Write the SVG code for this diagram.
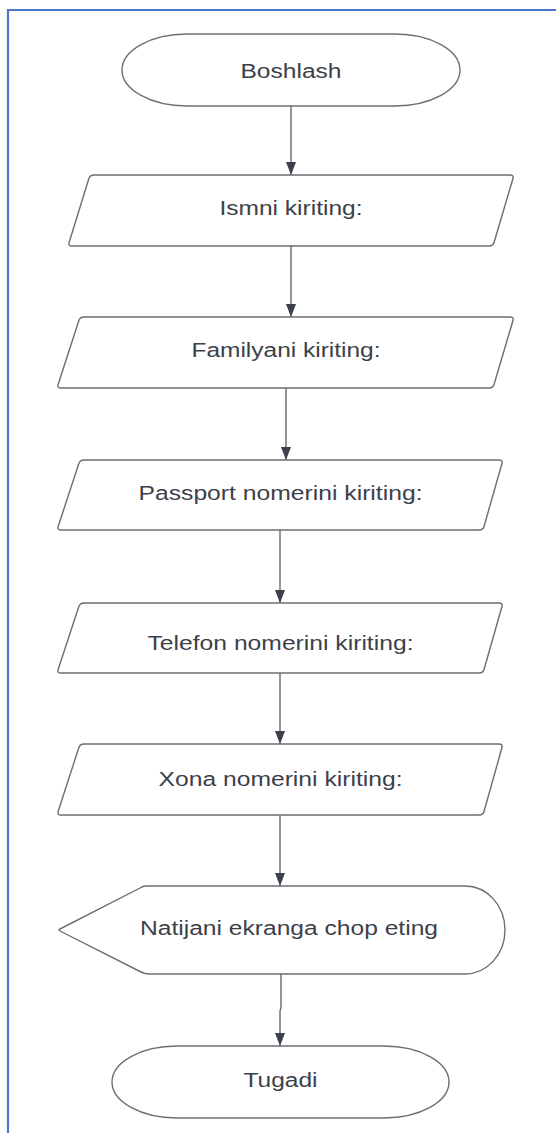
<svg xmlns="http://www.w3.org/2000/svg" width="556" height="1133" viewBox="0 0 556 1133">
  <style>
    .shape { fill: #ffffff; stroke: #6a6d73; stroke-width: 1.4; }
    .label { font-family: "Liberation Sans", Arial, sans-serif; font-size: 20px; fill: #3c4149; text-anchor: middle; }
    .flow { fill: none; stroke: #6f7278; stroke-width: 1.5; marker-end: url(#arrow); }
    .frame { fill: none; stroke: #4a77cc; stroke-width: 2.2; }
  </style>
  <defs>
    <marker id="arrow" markerUnits="userSpaceOnUse" markerWidth="13" markerHeight="10" refX="13" refY="5" orient="auto">
      <path d="M0,0 L13,5 L0,10 Z" fill="#3b4049"/>
    </marker>
  </defs>

  <rect width="556" height="1133" fill="#ffffff"/>
  <!-- page frame -->
  <path class="frame" d="M8 1133 V10 H556"/>

  <g id="connectors">
    <path class="flow" d="M291 106 V175"/>
    <path class="flow" d="M291 246 V317"/>
    <path class="flow" d="M286 388 V460"/>
    <path class="flow" d="M280 530 V603"/>
    <path class="flow" d="M280 673 V744"/>
    <path class="flow" d="M280 815 V886"/>
    <path class="flow" d="M281 974 V1008 L280 1011 V1046"/>
  </g>

  <g id="start">
    <rect class="shape" x="122" y="34" width="338" height="72" rx="65" ry="36"/>
    <text class="label" x="291" y="78" textLength="101" lengthAdjust="spacingAndGlyphs">Boshlash</text>
  </g>

  <g id="input-name">
    <path class="shape" d="M94 175 L510 175 Q514 175 512.9 178.8 L494.1 242.2 Q493 246 489 246 L72 246 Q68 246 69.2 242.2 L88.8 178.8 Q90 175 94 175 Z"/>
    <text class="label" x="291" y="215" textLength="143" lengthAdjust="spacingAndGlyphs">Ismni kiriting:</text>
  </g>

  <g id="input-surname">
    <path class="shape" d="M84 317 L510 317 Q514 317 512.9 320.8 L494.1 384.2 Q493 388 489 388 L61 388 Q57 388 58.2 384.2 L78.8 320.8 Q80 317 84 317 Z"/>
    <text class="label" x="286" y="357" textLength="189" lengthAdjust="spacingAndGlyphs">Familyani kiriting:</text>
  </g>

  <g id="input-passport">
    <path class="shape" d="M84 460 L499 460 Q503 460 501.9 463.8 L484.1 526.2 Q483 530 479 530 L61 530 Q57 530 58.2 526.2 L78.8 463.8 Q80 460 84 460 Z"/>
    <text class="label" x="280.5" y="500" textLength="284" lengthAdjust="spacingAndGlyphs">Passport nomerini kiriting:</text>
  </g>

  <g id="input-phone">
    <path class="shape" d="M84 603 L499 603 Q503 603 501.9 606.8 L484.1 669.2 Q483 673 479 673 L61 673 Q57 673 58.2 669.2 L78.8 606.8 Q80 603 84 603 Z"/>
    <text class="label" x="280.5" y="650" textLength="266" lengthAdjust="spacingAndGlyphs">Telefon nomerini kiriting:</text>
  </g>

  <g id="input-room">
    <path class="shape" d="M84 744 L499 744 Q503 744 501.9 747.8 L484.1 811.2 Q483 815 479 815 L61 815 Q57 815 58.2 811.2 L78.8 747.8 Q80 744 84 744 Z"/>
    <text class="label" x="280.5" y="786" textLength="244" lengthAdjust="spacingAndGlyphs">Xona nomerini kiriting:</text>
  </g>

  <g id="display-result">
    <path class="shape" d="M146 886 L465 886 A40 44 0 0 1 465 974 L149 974 Q145 974 141 972 L60 931 Q58 930 60 929 L140 888 Q143 886 146 886 Z"/>
    <text class="label" x="289" y="935" textLength="298" lengthAdjust="spacingAndGlyphs">Natijani ekranga chop eting</text>
  </g>

  <g id="end">
    <rect class="shape" x="112" y="1046" width="337" height="72" rx="65" ry="36"/>
    <text class="label" x="280.5" y="1087" textLength="74" lengthAdjust="spacingAndGlyphs">Tugadi</text>
  </g>
</svg>
